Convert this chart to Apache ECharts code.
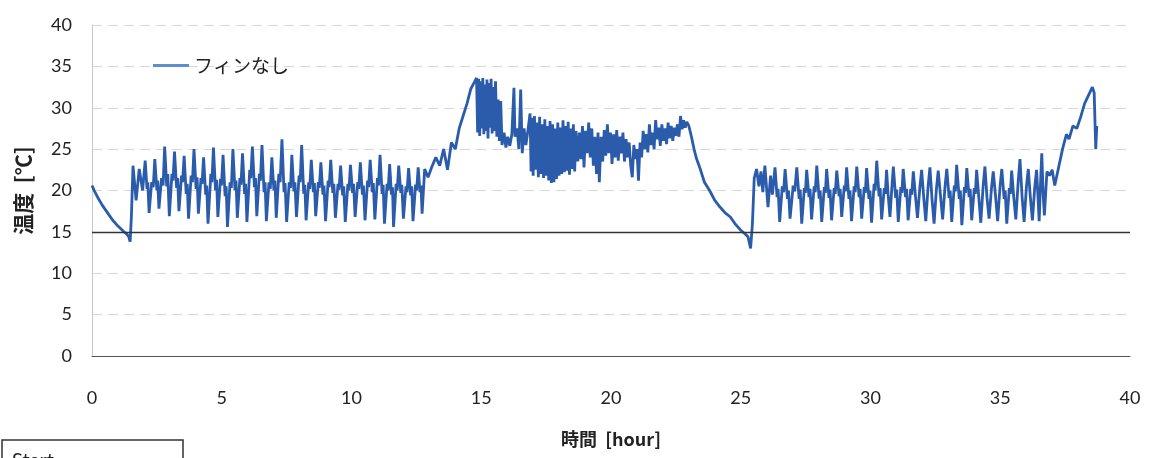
<!DOCTYPE html>
<html><head><meta charset="utf-8">
<script src="https://cdn.jsdelivr.net/npm/echarts@6/dist/echarts.min.js"></script>
<style>html,body{margin:0;padding:0;background:#fff}#c{width:1153px;height:458px}</style>
</head><body><div id="c"></div>
<script>
const seriesName = 'フィンなし';
const xTicks = [0,5,10,15,20,25,30,35,40];
const yTicks = [0,5,10,15,20,25,30,35,40];
const xAxisTitle = '時間  [hour]';
const yAxisTitle = '温度  [℃]';
const boxText = 'Start';

const coolStart = [[0,20.6],[0.1,19.9],[0.25,19.0],[0.4,18.2],[0.6,17.3],[0.8,16.4],[1.0,15.7],[1.2,15.1],[1.35,14.7],[1.42,14.4],[1.47,13.8],[1.52,17.0]];
const cycling1 = [[1.58,23.0],[1.70,18.8],[1.82,22.6],[1.95,20.0],[2.05,23.6],[2.12,20.2],[2.15,21.0],[2.20,17.3],[2.30,21.0],[2.36,20.4],[2.42,23.8],[2.50,20.0],[2.53,21.2],[2.58,17.8],[2.68,21.5],[2.74,20.6],[2.80,25.3],[2.88,20.5],[2.92,22.0],[2.98,16.9],[3.08,22.0],[3.12,21.2],[3.18,24.7],[3.26,20.3],[3.30,21.5],[3.35,17.5],[3.45,21.8],[3.49,21.0],[3.55,24.2],[3.63,19.6],[3.67,20.8],[3.72,16.6],[3.82,21.8],[3.87,21.0],[3.93,25.0],[4.01,20.2],[4.05,21.6],[4.10,17.2],[4.20,21.5],[4.24,20.8],[4.30,24.0],[4.38,19.5],[4.42,20.6],[4.47,16.0],[4.58,22.0],[4.62,21.0],[4.68,25.2],[4.76,20.0],[4.80,21.3],[4.85,16.8],[4.95,21.4],[4.99,20.6],[5.05,24.3],[5.13,19.3],[5.17,20.5],[5.22,15.6],[5.32,21.0],[5.37,20.3],[5.43,25.0],[5.51,20.0],[5.55,21.2],[5.60,16.7],[5.70,21.5],[5.74,20.7],[5.80,24.5],[5.88,19.6],[5.92,20.8],[5.97,16.2],[6.08,22.5],[6.12,21.5],[6.18,25.3],[6.26,20.4],[6.30,21.5],[6.35,16.9],[6.45,22.0],[6.49,21.2],[6.55,25.5],[6.63,19.8],[6.67,21.0],[6.72,16.3],[6.82,21.0],[6.87,20.2],[6.93,24.0],[7.01,20.0],[7.05,21.2],[7.10,16.7],[7.20,22.0],[7.25,21.0],[7.32,26.2],[7.40,19.8],[7.44,20.9],[7.50,16.2],[7.60,21.0],[7.65,20.3],[7.70,24.3],[7.78,19.9],[7.82,21.0],[7.88,16.8],[7.98,21.8],[8.02,21.0],[8.08,25.5],[8.16,19.6],[8.20,20.7],[8.25,16.4],[8.35,21.0],[8.39,20.2],[8.45,23.7],[8.53,19.8],[8.57,20.9],[8.62,16.9],[8.72,21.0],[8.76,20.3],[8.82,23.4],[8.90,19.5],[8.94,20.6],[9.00,16.3],[9.10,21.2],[9.14,20.4],[9.20,23.7],[9.28,19.7],[9.32,20.8],[9.38,16.7],[9.48,20.8],[9.52,20.1],[9.58,23.0],[9.66,19.4],[9.70,20.5],[9.76,16.2],[9.86,20.8],[9.90,20.0],[9.96,23.1],[10.04,19.7],[10.08,20.8],[10.14,16.8],[10.24,21.0],[10.28,20.2],[10.34,23.4],[10.42,19.5],[10.46,20.6],[10.52,16.4],[10.62,21.2],[10.66,20.4],[10.72,23.7],[10.80,19.8],[10.84,20.9],[10.90,16.5],[11.00,21.5],[11.04,20.6],[11.10,24.3],[11.18,19.6],[11.22,20.7],[11.27,16.0],[11.37,20.8],[11.41,20.0],[11.47,23.2],[11.54,19.5],[11.58,20.4],[11.62,15.6],[11.72,20.8],[11.76,20.0],[11.82,23.0],[11.90,19.7],[11.94,20.7],[12.00,16.6],[12.10,20.5],[12.14,19.8],[12.20,22.7],[12.28,19.4],[12.32,20.5],[12.37,16.3],[12.47,20.7],[12.51,20.0],[12.57,22.8],[12.64,19.8],[12.68,20.6],[12.72,17.2],[12.82,22.6],[12.95,21.6],[13.10,22.9]];
const heatUp = [[13.25,24.0],[13.40,23.0],[13.55,25.0],[13.70,22.5],[13.85,25.8],[14.0,25.0],[14.15,27.5],[14.3,29.0],[14.45,30.5],[14.6,32.3],[14.72,33.0],[14.82,33.6]];
const hotBlock = [[14.86,27.0],[14.90,33.5],[14.94,26.6],[14.98,33.2],[15.02,27.5],[15.06,33.6],[15.10,26.8],[15.14,32.8],[15.18,27.2],[15.22,33.4],[15.26,26.3],[15.30,33.0],[15.34,27.6],[15.38,33.5],[15.42,26.9],[15.46,32.5],[15.50,27.2],[15.55,33.2],[15.60,26.5],[15.65,31.0],[15.70,26.0],[15.75,30.8],[15.80,25.5],[15.88,27.0],[15.95,25.2],[16.02,26.5],[16.10,25.4],[16.18,26.8],[16.26,32.4],[16.30,26.5],[16.38,27.5],[16.45,25.0],[16.52,32.2],[16.58,24.5],[16.65,27.5],[16.72,25.5],[16.80,27.3]];
const midBlock = [[16.88,29.3],[16.92,22.3],[16.96,28.8],[17.00,21.8],[17.05,29.0],[17.10,22.5],[17.15,28.2],[17.20,21.6],[17.25,28.9],[17.30,22.0],[17.35,28.0],[17.40,21.5],[17.45,28.6],[17.50,21.8],[17.55,27.8],[17.60,21.2],[17.65,28.4],[17.70,20.9],[17.75,28.0],[17.80,21.0],[17.85,27.5],[17.90,21.4],[17.95,28.2],[18.00,21.8],[18.05,27.6],[18.10,22.0],[18.15,28.5],[18.20,22.2],[18.25,27.8],[18.30,22.4],[18.35,28.3],[18.40,21.9],[18.45,27.5],[18.50,22.6],[18.55,28.0],[18.60,22.3],[18.65,27.2]];
const lateWarm = [[18.72,23.5],[18.78,27.0],[18.84,23.8],[18.90,27.8],[18.96,22.8],[19.02,27.2],[19.08,24.5],[19.14,28.2],[19.20,24.0],[19.26,27.5],[19.32,23.0],[19.38,26.5],[19.44,22.0],[19.50,27.0],[19.55,21.0],[19.62,26.5],[19.68,23.5],[19.74,27.3],[19.80,24.2],[19.86,28.0],[19.92,24.5],[19.98,27.0],[20.04,23.2],[20.10,26.8],[20.16,24.0],[20.22,27.3],[20.28,23.6],[20.34,26.5],[20.40,24.5],[20.46,27.0],[20.52,23.5],[20.58,26.2],[20.64,24.0],[20.70,25.8],[20.76,23.0],[20.82,21.6],[20.88,25.5],[20.94,23.8],[21.00,25.0],[21.06,21.2],[21.12,25.8],[21.18,24.0],[21.24,27.2],[21.30,25.0],[21.36,26.8],[21.42,24.6],[21.48,28.0],[21.54,25.5],[21.60,27.0],[21.66,25.0],[21.72,28.5],[21.78,26.2],[21.84,27.6],[21.90,25.4],[21.96,28.0],[22.02,26.0],[22.08,27.5],[22.14,25.6],[22.20,28.2],[22.26,26.3],[22.32,27.8],[22.38,26.0],[22.44,27.6],[22.50,26.6],[22.56,28.0],[22.62,26.5],[22.68,29.0],[22.74,27.4],[22.80,28.5],[22.86,27.6],[22.92,28.3],[23.00,27.8],[23.10,26.5]];
const coolDown = [[23.2,25.0],[23.3,23.8],[23.45,22.5],[23.6,21.0],[23.8,20.0],[24.0,18.8],[24.2,18.0],[24.4,17.3],[24.6,16.8],[24.8,15.9],[25.0,15.2],[25.15,14.8],[25.28,14.4],[25.38,13.0],[25.45,16.0],[25.52,21.5]];
const cycling2 = [[25.61,22.6],[25.70,20.5],[25.78,22.3],[25.85,19.8],[25.93,23.0],[26.05,18.0],[26.15,21.8],[26.22,19.5],[26.32,22.8],[26.40,19.2],[26.44,20.2],[26.50,16.2],[26.60,20.5],[26.65,19.8],[26.71,22.6],[26.80,19.0],[26.84,20.0],[26.90,16.6],[27.02,20.6],[27.08,19.9],[27.16,22.8],[27.25,19.0],[27.29,20.1],[27.35,16.0],[27.45,20.3],[27.49,19.7],[27.54,22.5],[27.63,19.2],[27.67,20.2],[27.73,16.5],[27.83,20.5],[27.87,19.8],[27.93,23.0],[28.02,19.0],[28.06,20.0],[28.12,16.2],[28.22,20.4],[28.26,19.7],[28.31,22.6],[28.40,19.1],[28.44,20.1],[28.50,16.4],[28.60,20.3],[28.64,19.6],[28.70,22.4],[28.79,19.3],[28.83,20.2],[28.89,16.8],[28.99,20.6],[29.03,19.9],[29.08,22.8],[29.17,19.0],[29.21,20.0],[29.27,16.3],[29.37,20.5],[29.41,19.8],[29.47,22.9],[29.56,19.2],[29.60,20.2],[29.66,16.6],[29.76,20.4],[29.80,19.7],[29.85,22.7],[29.94,19.0],[29.98,20.0],[30.04,16.1],[30.14,20.8],[30.18,20.0],[30.24,23.6],[30.33,19.3],[30.37,20.3],[30.43,16.5],[30.53,20.3],[30.57,19.6],[30.62,22.5],[30.68,19.5],[30.75,16.8],[30.82,20.2],[30.88,22.9],[30.97,19.1],[31.01,20.1],[31.07,16.2],[31.17,20.4],[31.21,19.7],[31.26,22.6],[31.35,19.2],[31.39,20.2],[31.45,16.4],[31.55,20.2],[31.59,19.5],[31.65,22.3],[31.73,19.4],[31.81,16.7],[31.90,20.3],[31.97,22.5],[32.05,19.2],[32.13,16.3],[32.22,20.5],[32.29,22.8],[32.37,19.0],[32.45,16.0],[32.54,20.2],[32.61,22.4],[32.70,19.3],[32.78,16.5],[32.87,20.4],[32.94,22.6],[33.03,19.1],[33.07,20.0],[33.13,16.2],[33.23,20.6],[33.27,19.9],[33.32,23.1],[33.42,19.0],[33.46,20.0],[33.52,15.8],[33.62,20.4],[33.66,19.7],[33.71,22.7],[33.80,19.2],[33.84,20.2],[33.90,16.4],[34.00,20.3],[34.04,19.6],[34.09,22.5],[34.17,19.3],[34.25,16.1],[34.34,20.5],[34.41,22.9],[34.49,19.1],[34.57,16.6],[34.66,20.2],[34.73,22.3],[34.82,19.3],[34.90,16.3],[34.99,20.4],[35.06,22.6],[35.15,19.0],[35.19,20.0],[35.25,16.0],[35.35,20.3],[35.39,19.6],[35.44,22.4],[35.52,19.2],[35.60,16.5],[35.69,21.0],[35.76,23.8],[35.84,19.3],[35.92,16.2],[36.01,20.5],[36.08,22.6],[36.16,19.2],[36.24,16.4],[36.33,20.4],[36.40,22.5],[36.45,19.5],[36.50,16.3],[36.56,21.5],[36.60,24.5],[36.65,19.8],[36.70,17.0],[36.80,22.3]];
const finalRise = [[36.90,21.8],[37.00,22.5],[37.10,20.6],[37.25,22.8],[37.40,25.0],[37.55,26.8],[37.65,26.2],[37.80,27.8],[37.95,27.5],[38.10,28.9],[38.25,30.5],[38.40,31.5],[38.55,32.5],[38.62,31.8],[38.68,25.0],[38.72,27.8]];

const data = [].concat(coolStart, cycling1, heatUp, hotBlock, midBlock, lateWarm, coolDown, cycling2, finalRise);

const chart = echarts.init(document.getElementById('c'));
const FONT = 'Lato, "Noto Sans CJK JP", sans-serif';
const CJK = '"Noto Sans CJK JP", sans-serif';
chart.setOption({
  animation: false,
  backgroundColor: '#fff',
  grid: {left: 92, right: 23, top: 25, bottom: 102},
  legend: {
    data: [{name: seriesName, icon: 'rect', itemStyle: {color: '#5b8fd0'}}],
    left: 148, top: 51, itemWidth: 36, itemHeight: 3, itemGap: 4,
    textStyle: {fontSize: 19, color: '#222', fontFamily: CJK}
  },
  xAxis: {
    type: 'value', min: xTicks[0], max: xTicks[xTicks.length-1], interval: 5,
    name: xAxisTitle, nameLocation: 'middle', nameGap: 74,
    nameTextStyle: {fontSize: 18, fontWeight: 'bold', color: '#222', fontFamily: CJK},
    axisLine: {lineStyle: {color: '#555', width: 1.2}},
    axisTick: {show: false},
    axisLabel: {margin: 33, fontSize: 18, color: '#222', fontFamily: FONT},
    splitLine: {show: false}
  },
  yAxis: {
    type: 'value', min: yTicks[0], max: yTicks[yTicks.length-1], interval: 5,
    name: yAxisTitle, nameLocation: 'middle', nameGap: 58, nameRotate: 90,
    nameTextStyle: {fontSize: 21, fontWeight: 'bold', color: '#222', fontFamily: CJK},
    axisLine: {show: true, lineStyle: {color: '#c8c8c8', width: 1}},
    axisTick: {show: false},
    axisLabel: {margin: 20, fontSize: 18, color: '#222', fontFamily: FONT},
    splitLine: {show: true, lineStyle: {color: '#d8d8d8', type: [10, 6], width: 1}}
  },
  series: [{
    name: seriesName, type: 'line', data: data, showSymbol: false, symbol: 'none',
    lineStyle: {color: '#2b5cab', width: 2.8}, itemStyle: {color: '#2b5cab'},
    markLine: {
      silent: true, symbol: 'none', label: {show: false},
      lineStyle: {color: '#333', type: 'solid', width: 1.3},
      data: [{yAxis: 15}]
    },
    z: 3
  }],
  graphic: [
    {type: 'rect', shape: {x: 2, y: 440, width: 181, height: 40}, style: {fill: 'none', stroke: '#333', lineWidth: 1.5}},
    {type: 'text', x: 12, y: 451, style: {text: boxText, fontSize: 20, fill: '#222', fontFamily: FONT}}
  ]
});
</script></body></html>
